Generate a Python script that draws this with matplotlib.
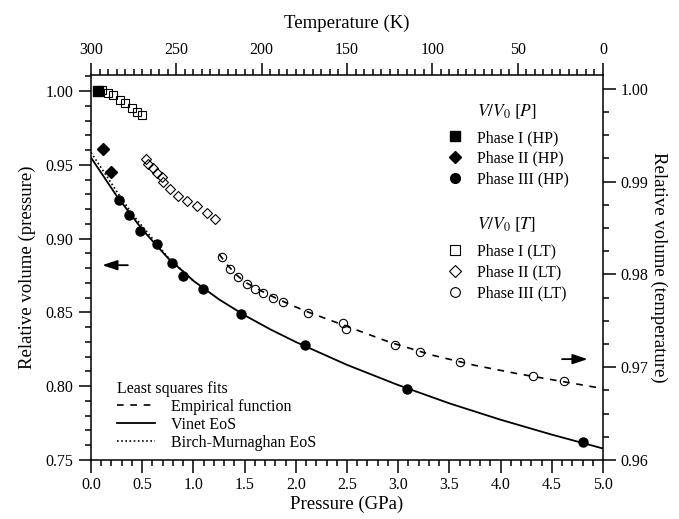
import matplotlib
matplotlib.use("Agg")
import matplotlib.pyplot as plt
from matplotlib.lines import Line2D
from matplotlib.ticker import MultipleLocator, FormatStrFormatter

plt.rcParams['font.family'] = ['Liberation Serif', 'DejaVu Serif']
plt.rcParams['mathtext.fontset'] = 'stix'

# high-pressure data (bottom / left axes)
p_hp1 = [0.07]
v_hp1 = [1.000]
p_hp2 = [0.12, 0.20]
v_hp2 = [0.961, 0.945]
p_hp3 = [0.27, 0.37, 0.48, 0.64, 0.79, 0.895, 1.09, 1.465, 2.09, 3.09, 4.8]
v_hp3 = [0.9265, 0.916, 0.905, 0.8966, 0.8837, 0.8748, 0.8658, 0.8492,
         0.8277, 0.7982, 0.7622]

# fitted EoS curves
p_vinet = [0.0, 0.25, 0.5, 0.75, 1.0, 1.25, 1.5, 1.75, 2.0, 2.5, 3.0, 3.5,
           4.0, 4.5, 5.0]
v_vinet = [0.955, 0.9291, 0.9063, 0.8870, 0.8715, 0.8589, 0.8481, 0.8386,
           0.8300, 0.8145, 0.8008, 0.7884, 0.7773, 0.7672, 0.7578]
p_bm = [0.0, 0.1, 0.2, 0.3, 0.4, 0.5, 0.75, 1.0]
v_bm = [0.9585, 0.948, 0.9375, 0.927, 0.917, 0.9085, 0.8875, 0.8715]

# low-temperature data (top / right axes)
t_lt1 = [293.7, 289.9, 287.0, 283.1, 280.1, 276.2, 273.3, 270.3]
v_lt1 = [0.99989, 0.99954, 0.99935, 0.99881, 0.99846, 0.99792, 0.99756, 0.99720]
t_lt2 = [267.9, 266.4, 263.8, 261.5, 258.6, 258.0, 253.7, 248.8, 243.9,
         238.1, 232.2, 227.3]
v_lt2 = [0.99242, 0.99191, 0.99145, 0.99098, 0.99054, 0.99001, 0.98919,
         0.98850, 0.98795, 0.98739, 0.98666, 0.98598]
t_lt3 = [223.4, 218.6, 213.7, 208.8, 203.9, 199.0, 193.5, 187.7, 172.7,
         152.5, 150.6, 121.9, 107.2, 83.8, 40.8, 22.6]
v_lt3 = [0.98192, 0.98059, 0.97970, 0.97898, 0.97844, 0.97797, 0.97743,
         0.97700, 0.97588, 0.97480, 0.97416, 0.97240, 0.97161, 0.97053,
         0.96902, 0.96854]
t_emp = [225, 220, 215, 210, 200, 190, 175, 150, 125, 100, 75, 50, 25, 0]
v_emp = [0.9822, 0.9810, 0.9800, 0.9792, 0.9782, 0.9773, 0.9761, 0.9744,
         0.9727, 0.9713, 0.9702, 0.9693, 0.9685, 0.9677]

fig = plt.figure(figsize=(6.79, 5.19), dpi=100)
rect = [91 / 679, 59 / 519, 512 / 679, 385 / 519]
ax = fig.add_axes(rect)
ax_lt = fig.add_axes(rect, frameon=False)

tick_fs = 11.5
label_fs = 13.5

ax.plot(p_vinet, v_vinet, color='black', lw=1.3)
ax.plot(p_bm, v_bm, color='black', lw=1.2, ls=(0, (1, 1.5)))
ax.plot(p_hp1, v_hp1, 's', color='black', ms=6.5)
ax.plot(p_hp2, v_hp2, 'D', color='black', ms=6)
ax.plot(p_hp3, v_hp3, 'o', color='black', ms=6.5)

ax.set_xlim(0, 5)
ax.set_ylim(0.75, 1.011)
ax.xaxis.set_major_locator(MultipleLocator(0.5))
ax.xaxis.set_minor_locator(MultipleLocator(0.1))
ax.yaxis.set_major_locator(MultipleLocator(0.05))
ax.yaxis.set_minor_locator(MultipleLocator(0.01))
ax.xaxis.set_major_formatter(FormatStrFormatter('%.1f'))
ax.yaxis.set_major_formatter(FormatStrFormatter('%.2f'))
ax.tick_params(which='both', direction='out', labelsize=tick_fs, width=1.1)
ax.tick_params(which='major', length=9)
ax.tick_params(which='minor', length=4.5)
ax.set_xlabel('Pressure (GPa)', fontsize=label_fs, labelpad=2)
ax.set_ylabel('Relative volume (pressure)', fontsize=label_fs, labelpad=7)
for s in ax.spines.values():
    s.set_linewidth(1.1)

ax_lt.plot(t_emp, v_emp, color='black', lw=1.2, ls=(0, (4, 4)))
ax_lt.plot(t_lt1, v_lt1, 's', mfc='none', mec='black', ms=6, mew=0.8)
ax_lt.plot(t_lt2, v_lt2, 'D', mfc='none', mec='black', ms=5.5, mew=0.8)
ax_lt.plot(t_lt3, v_lt3, 'o', mfc='none', mec='black', ms=6, mew=0.8)

ax_lt.set_xlim(300, 0)
ax_lt.set_ylim(0.96, 1.0015)
ax_lt.xaxis.tick_top()
ax_lt.xaxis.set_label_position('top')
ax_lt.yaxis.tick_right()
ax_lt.yaxis.set_label_position('right')
ax_lt.xaxis.set_major_locator(MultipleLocator(50))
ax_lt.xaxis.set_minor_locator(MultipleLocator(5))
ax_lt.yaxis.set_major_locator(MultipleLocator(0.01))
ax_lt.yaxis.set_minor_locator(MultipleLocator(0.0025))
ax_lt.yaxis.set_major_formatter(FormatStrFormatter('%.2f'))
ax_lt.tick_params(which='both', direction='out', labelsize=tick_fs, width=1.1)
ax_lt.tick_params(which='major', length=9)
ax_lt.tick_params(which='minor', length=4.5)
ax_lt.set_xlabel('Temperature (K)', fontsize=label_fs, labelpad=10)
ax_lt.set_ylabel('Relative volume (temperature)', fontsize=label_fs,
                 rotation=270, labelpad=14)

# direction arrows
arrow_style = dict(arrowstyle='-|>,head_length=0.9,head_width=0.3',
                   color='black', lw=1.3, shrinkA=0, shrinkB=0)
ax.annotate('', xy=(0.022, 0.506), xytext=(0.072, 0.506),
            xycoords='axes fraction', arrowprops=arrow_style)
ax.annotate('', xy=(0.970, 0.262), xytext=(0.920, 0.262),
            xycoords='axes fraction', arrowprops=arrow_style)

# legends
leg_fs = 11.5
hp_handles = [Line2D([], [], ls='none', marker='s', color='black', ms=7),
              Line2D([], [], ls='none', marker='D', color='black', ms=6),
              Line2D([], [], ls='none', marker='o', color='black', ms=7)]
hp_labels = ['Phase I (HP)', 'Phase II (HP)', 'Phase III (HP)']
lt_handles = [Line2D([], [], ls='none', marker='s', mfc='none', mec='black', ms=7, mew=0.8),
              Line2D([], [], ls='none', marker='D', mfc='none', mec='black', ms=6, mew=0.8),
              Line2D([], [], ls='none', marker='o', mfc='none', mec='black', ms=7, mew=0.8)]
lt_labels = ['Phase I (LT)', 'Phase II (LT)', 'Phase III (LT)']

leg1 = ax_lt.legend(hp_handles, hp_labels, loc='upper left', frameon=False,
                    bbox_to_anchor=(0.68, 0.878), fontsize=leg_fs,
                    handlelength=1.0, handletextpad=0.85, labelspacing=0.3,
                    borderpad=0)
ax_lt.add_artist(leg1)
ax_lt.legend(lt_handles, lt_labels, loc='upper left', frameon=False,
             bbox_to_anchor=(0.68, 0.583), fontsize=leg_fs,
             handlelength=1.0, handletextpad=0.85, labelspacing=0.3,
             borderpad=0)
ax_lt.text(0.754, 0.905, r'$V/V_0\ [P]$', transform=ax_lt.transAxes,
           fontsize=leg_fs + 1, va='center', ha='left')
ax_lt.text(0.754, 0.61, r'$V/V_0\ [T]$', transform=ax_lt.transAxes,
           fontsize=leg_fs + 1, va='center', ha='left')

fit_handles = [Line2D([], [], color='black', lw=1.2, ls=(0, (4, 4))),
               Line2D([], [], color='black', lw=1.3),
               Line2D([], [], color='black', lw=1.2, ls=(0, (1, 1.5)))]
fit_labels = ['Empirical function', 'Vinet EoS', 'Birch-Murnaghan EoS']
ax.legend(fit_handles, fit_labels, loc='lower left', frameon=False,
          bbox_to_anchor=(0.035, 0.003), fontsize=leg_fs,
          title='Least squares fits', title_fontsize=leg_fs,
          alignment='left', handlelength=2.4, handletextpad=1.0,
          labelspacing=0.12, borderpad=0)

fig.savefig('out.png', dpi=100)
